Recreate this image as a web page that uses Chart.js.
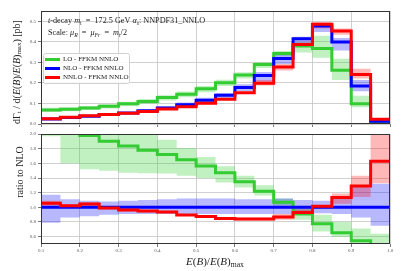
<!DOCTYPE html>
<html>
<head>
<meta charset="utf-8">
<script src="https://cdn.jsdelivr.net/npm/chart.js@4.4.0/dist/chart.umd.min.js"></script>
<style>
    html, body { margin: 0; padding: 0; background: #fff; }
    #wrap { position: relative; width: 407px; height: 271px; }
    #topCanvas { position: absolute; left: 0; top: 0; }
    #botCanvas { position: absolute; left: 0; top: 129px; }
</style>
</head>
<body>
<div id="wrap">
    <canvas id="topCanvas" width="407" height="129" style="width:407px;height:129px"></canvas>
    <canvas id="botCanvas" width="407" height="142" style="width:407px;height:142px"></canvas>
</div>
<script>
// bin edges of E(B)/E(B)max
const binEdges = [0.1, 0.15, 0.2, 0.25, 0.3, 0.35, 0.4, 0.45, 0.5, 0.55, 0.6, 0.65, 0.7, 0.75, 0.8, 0.85, 0.9, 0.95, 1.0];
const xTicks = [0.1, 0.2, 0.3, 0.4, 0.5, 0.6, 0.7, 0.8, 0.9, 1.0];

// top panel: dGamma / d(E/Emax) [pb]
const loDist      = [0.068, 0.072, 0.078, 0.086, 0.098, 0.110, 0.129, 0.145, 0.172, 0.201, 0.238, 0.289, 0.343, 0.380, 0.368, 0.262, 0.099, 0.006];
const loDistLow   = [0.058, 0.062, 0.068, 0.076, 0.086, 0.098, 0.114, 0.130, 0.155, 0.185, 0.222, 0.272, 0.330, 0.348, 0.322, 0.214, 0.082, 0.003];
const loDistHigh  = [0.079, 0.082, 0.088, 0.096, 0.108, 0.122, 0.140, 0.158, 0.185, 0.215, 0.252, 0.300, 0.355, 0.400, 0.430, 0.318, 0.138, 0.010];

const nloDist     = [0.024, 0.032, 0.038, 0.046, 0.054, 0.064, 0.078, 0.094, 0.115, 0.140, 0.178, 0.236, 0.319, 0.415, 0.477, 0.399, 0.185, 0.013];
const nloDistLow  = [0.019, 0.028, 0.034, 0.041, 0.049, 0.058, 0.071, 0.085, 0.104, 0.127, 0.160, 0.206, 0.292, 0.392, 0.448, 0.358, 0.159, 0.010];
const nloDistHigh = [0.028, 0.036, 0.042, 0.050, 0.059, 0.070, 0.087, 0.105, 0.128, 0.151, 0.193, 0.253, 0.340, 0.425, 0.482, 0.418, 0.214, 0.017];

const nnloDist     = [0.025, 0.033, 0.040, 0.046, 0.052, 0.061, 0.073, 0.084, 0.101, 0.121, 0.152, 0.198, 0.277, 0.387, 0.486, 0.453, 0.241, 0.023];
const nnloDistLow  = [0.023, 0.031, 0.038, 0.044, 0.050, 0.059, 0.071, 0.082, 0.098, 0.118, 0.148, 0.187, 0.261, 0.375, 0.465, 0.434, 0.222, 0.018];
const nnloDistHigh = [0.027, 0.035, 0.042, 0.048, 0.054, 0.063, 0.075, 0.087, 0.104, 0.125, 0.156, 0.214, 0.292, 0.395, 0.497, 0.465, 0.269, 0.027];

// bottom panel: ratio to NLO
const loRatio      = [2.80, 2.25, 1.98, 1.90, 1.835, 1.78, 1.72, 1.65, 1.565, 1.47, 1.35, 1.22, 1.07, 0.91, 0.775, 0.654, 0.545, 0.46];
const loRatioLow   = [1.97, 1.60, 1.52, 1.50, 1.47, 1.465, 1.46, 1.43, 1.40, 1.34, 1.27, 1.16, 1.02, 0.83, 0.67, 0.60, 0.50, 0.45];
const loRatioHigh  = [3.0, 3.0, 3.0, 3.0, 2.3, 2.1, 1.92, 1.81, 1.685, 1.56, 1.43, 1.30, 1.12, 0.99, 0.90, 0.80, 0.71, 0.64];

const nloRatio     = [1, 1, 1, 1, 1, 1, 1, 1, 1, 1, 1, 1, 1, 1, 1, 1, 1, 1];
const nloRatioLow  = [0.79, 0.86, 0.88, 0.90, 0.91, 0.91, 0.91, 0.91, 0.91, 0.91, 0.91, 0.91, 0.91, 0.92, 0.92, 0.91, 0.86, 0.75];
const nloRatioHigh = [1.17, 1.11, 1.09, 1.08, 1.09, 1.10, 1.11, 1.12, 1.12, 1.12, 1.11, 1.11, 1.12, 1.10, 1.09, 1.14, 1.30, 1.32];

const nnloRatio     = [1.054, 1.02, 1.045, 0.99, 0.965, 0.95, 0.937, 0.897, 0.876, 0.849, 0.84, 0.84, 0.868, 0.928, 1.015, 1.135, 1.29, 1.63];
const nnloRatioLow  = [1.02, 1.00, 1.02, 0.97, 0.945, 0.93, 0.92, 0.885, 0.86, 0.83, 0.82, 0.82, 0.83, 0.90, 0.98, 1.05, 1.14, 1.33];
const nnloRatioHigh = [1.09, 1.04, 1.07, 1.01, 0.98, 0.965, 0.95, 0.91, 0.89, 0.865, 0.86, 0.86, 0.91, 0.97, 1.03, 1.19, 1.43, 1.99];

const seriesNames = ['LO - FFKM NNLO', 'NLO - FFKM NNLO', 'NNLO - FFKM NNLO'];

const GREEN = '#33cc33', BLUE = '#0000ff', RED = '#ff0000';
const FONT = '"Liberation Serif", "DejaVu Serif", serif';

// one point per left bin edge, plus the closing right edge
function steps(vals) {
    const pts = vals.map((v, i) => ({x: binEdges[i], y: v}));
    pts.push({x: binEdges[binEdges.length - 1], y: vals[vals.length - 1]});
    return pts;
}

function lineSet(vals, color, order) {
    return {data: steps(vals), borderColor: color, borderWidth: 3, stepped: 'before',
            pointRadius: 0, fill: false, order: order};
}

function bandSets(low, high, color, order) {
    return [
        {data: steps(high), borderWidth: 0, borderColor: 'transparent', stepped: 'before',
         pointRadius: 0, fill: '+1', backgroundColor: color, order: order},
        {data: steps(low), borderWidth: 0, borderColor: 'transparent', stepped: 'before',
         pointRadius: 0, fill: false, order: order}
    ];
}

// draws text with italic / subscript pieces, returns width
function richText(ctx, parts, x, y, size, measureOnly) {
    let cx = x;
    for (const p of parts) {
        const fs = p.sub ? size * 0.7 : size;
        ctx.font = (p.it ? 'italic ' : '') + fs + 'px ' + FONT;
        if (!measureOnly) ctx.fillText(p.t, cx, y + (p.sub ? size * 0.25 : 0));
        cx += ctx.measureText(p.t).width;
    }
    return cx - x;
}

const EQ = '\u2002=\u2002';

const yTitleTop = [
    {t: 'dΓ'}, {t: 't', sub: true}, {t: ' / d('}, {t: 'E', it: true}, {t: '('}, {t: 'B', it: true},
    {t: ')/'}, {t: 'E', it: true}, {t: '('}, {t: 'B', it: true}, {t: ')'}, {t: 'max', sub: true}, {t: ') [pb]'}
];
const yTitleBot = [{t: 'ratio to NLO'}];
const xTitle = [
    {t: 'E', it: true}, {t: '('}, {t: 'B', it: true}, {t: ')/'}, {t: 'E', it: true}, {t: '('},
    {t: 'B', it: true}, {t: ')'}, {t: 'max', sub: true}
];
const infoLine1 = [
    {t: 't', it: true}, {t: '-decay '}, {t: 'm', it: true}, {t: 't', sub: true}, {t: EQ + '172.5 GeV '},
    {t: 'α', it: true}, {t: 's', it: true, sub: true}, {t: ': NNPDF31_NNLO'}
];
const infoLine2 = [
    {t: 'Scale: '}, {t: 'μ', it: true}, {t: 'R', it: true, sub: true}, {t: EQ}, {t: 'μ', it: true},
    {t: 'Fr', it: true, sub: true}, {t: EQ}, {t: 'm', it: true}, {t: 't', sub: true}, {t: '/2'}
];

function verticalTitle(ctx, parts, x, cy, size) {
    const w = richText(ctx, parts, 0, 0, size, true);
    ctx.save();
    ctx.translate(x, cy);
    ctx.rotate(-Math.PI / 2);
    ctx.fillStyle = '#222';
    ctx.textBaseline = 'middle';
    richText(ctx, parts, -w / 2, 0, size);
    ctx.restore();
}

const framePlugin = {
    id: 'frame',
    afterDatasetsDraw(chart) {
        const a = chart.chartArea, ctx = chart.ctx;
        ctx.save();
        ctx.strokeStyle = '#333';
        ctx.lineWidth = 1;
        ctx.strokeRect(a.left + 0.5, a.top + 0.5, a.right - a.left - 1, a.bottom - a.top - 1);
        ctx.restore();
    }
};

const topDecor = {
    id: 'topDecor',
    afterDraw(chart) {
        const ctx = chart.ctx;
        ctx.save();
        ctx.fillStyle = '#222';
        ctx.textBaseline = 'alphabetic';
        richText(ctx, infoLine1, 48, 23, 8.2);
        richText(ctx, infoLine2, 48, 35, 8.2);
        // legend
        ctx.fillStyle = 'rgba(255,255,255,0.85)';
        ctx.strokeStyle = '#d0d0d0';
        ctx.lineWidth = 1;
        ctx.beginPath();
        ctx.roundRect(43.5, 53.5, 86, 30, 2);
        ctx.fill();
        ctx.stroke();
        const cols = [GREEN, BLUE, RED];
        const ys = [59.5, 68.5, 77.5];
        for (let i = 0; i < 3; i++) {
            ctx.strokeStyle = cols[i];
            ctx.lineWidth = 3;
            ctx.beginPath();
            ctx.moveTo(45, ys[i]);
            ctx.lineTo(60, ys[i]);
            ctx.stroke();
            ctx.fillStyle = '#222';
            ctx.font = '7px ' + FONT;
            ctx.textBaseline = 'middle';
            ctx.fillText(seriesNames[i], 63, ys[i]);
        }
        verticalTitle(ctx, yTitleTop, 17, 72, 10);
        ctx.restore();
    }
};

const botDecor = {
    id: 'botDecor',
    afterDraw(chart) {
        const ctx = chart.ctx;
        ctx.save();
        verticalTitle(ctx, yTitleBot, 20, 172 - 129, 10);
        ctx.fillStyle = '#222';
        ctx.textBaseline = 'middle';
        const w = richText(ctx, xTitle, 0, 0, 11, true);
        richText(ctx, xTitle, 215 - w / 2, 262 - 129, 11);
        ctx.restore();
    }
};

function xScale(showLabels) {
    return {
        type: 'linear', min: 0.1, max: 1.0,
        afterBuildTicks: (s) => { s.ticks = xTicks.map(v => ({value: v})); },
        ticks: {display: showLabels, padding: 1, color: '#555', font: {family: FONT, size: 5},
                maxRotation: 0, callback: v => v.toFixed(1)},
        grid: {color: '#c4c4c4', lineWidth: 0.8, tickLength: 3, tickColor: '#555'},
        border: {display: false},
        afterFit: (s) => { s.height = showLabels ? 27 : 2; }
    };
}

function yScale(min, max, step, digits) {
    return {
        type: 'linear', min: min, max: max,
        ticks: {stepSize: step, includeBounds: false, padding: 2, color: '#555',
                font: {family: FONT, size: 5}, callback: v => v.toFixed(digits)},
        grid: {color: '#c4c4c4', lineWidth: 0.8, tickLength: 3, tickColor: '#555'},
        border: {display: false},
        afterFit: (s) => { s.width = 41; }
    };
}

const commonOpts = {
    responsive: false,
    animation: false,
    devicePixelRatio: 1,
    plugins: {legend: {display: false}, tooltip: {enabled: false}}
};

new Chart(document.getElementById('topCanvas'), {
    type: 'line',
    data: {
        datasets: [
            lineSet(nnloDist, RED, 1),
            lineSet(nloDist, BLUE, 2),
            lineSet(loDist, GREEN, 3),
            ...bandSets(nnloDistLow, nnloDistHigh, 'rgba(255,0,0,0.28)', 4),
            ...bandSets(nloDistLow, nloDistHigh, 'rgba(0,0,255,0.28)', 5),
            ...bandSets(loDistLow, loDistHigh, 'rgba(50,205,50,0.3)', 6)
        ]
    },
    options: {
        ...commonOpts,
        layout: {padding: {left: 0, right: 17, top: 11, bottom: 0}},
        scales: {x: xScale(false), y: yScale(0, 0.55, 0.1, 1)}
    },
    plugins: [framePlugin, topDecor]
});

new Chart(document.getElementById('botCanvas'), {
    type: 'line',
    data: {
        datasets: [
            lineSet(nnloRatio, RED, 1),
            lineSet(nloRatio, BLUE, 2),
            lineSet(loRatio, GREEN, 3),
            ...bandSets(nnloRatioLow, nnloRatioHigh, 'rgba(255,0,0,0.28)', 4),
            ...bandSets(nloRatioLow, nloRatioHigh, 'rgba(0,0,255,0.28)', 5),
            ...bandSets(loRatioLow, loRatioHigh, 'rgba(50,205,50,0.3)', 6)
        ]
    },
    options: {
        ...commonOpts,
        layout: {padding: {left: 0, right: 17, top: 3, bottom: 0}},
        scales: {x: xScale(true), y: yScale(0.5, 2.0, 0.2, 1)}
    },
    plugins: [framePlugin, botDecor]
});
</script>
</body>
</html>
